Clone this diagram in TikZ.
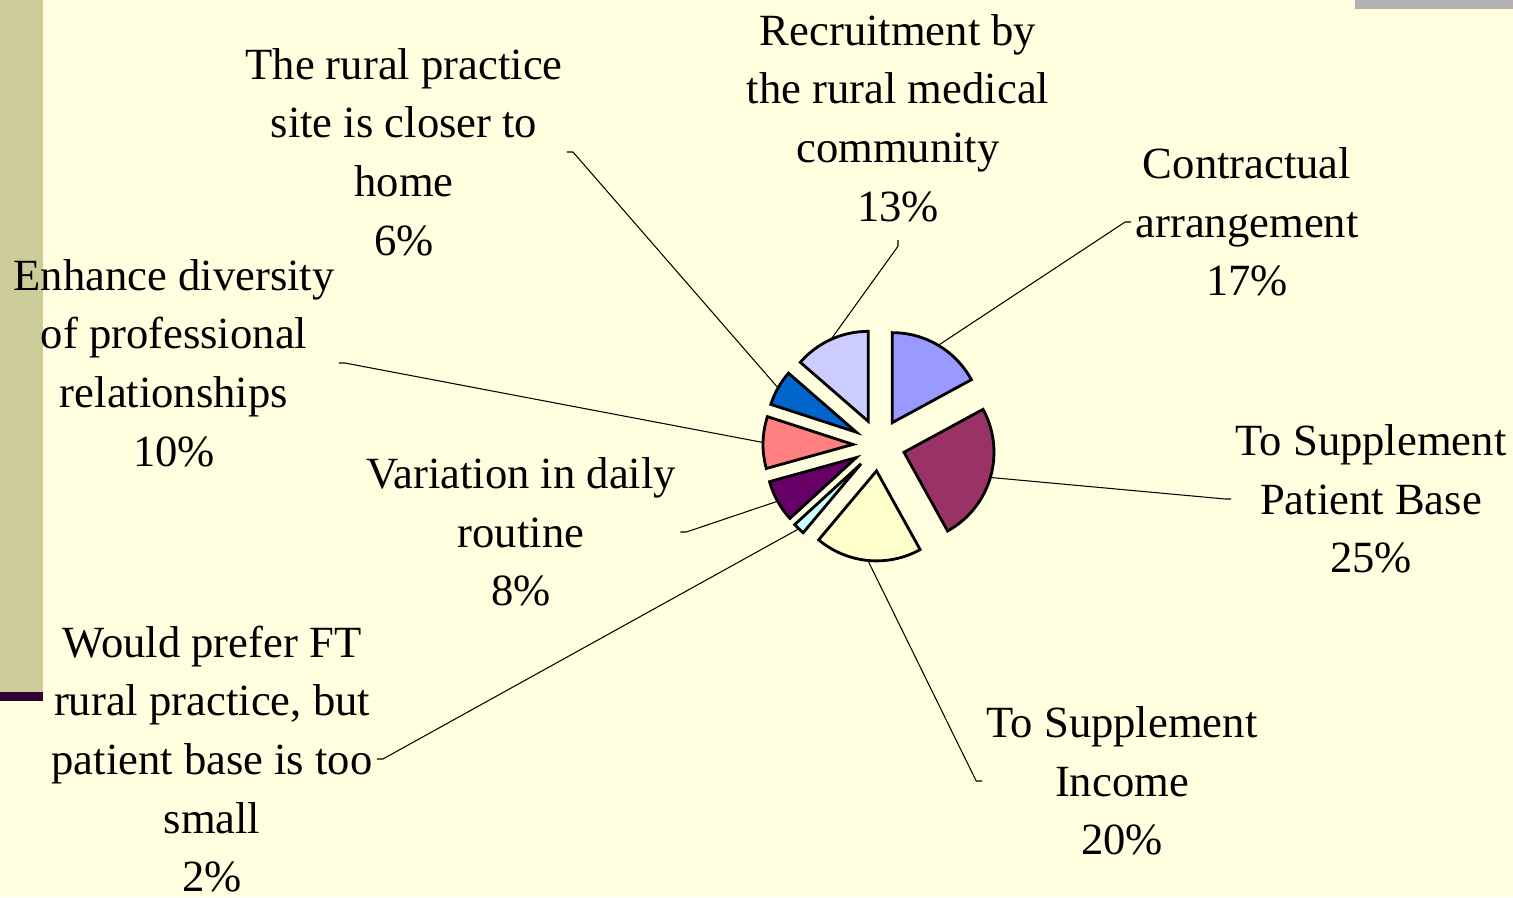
\documentclass[tikz,border=0pt]{standalone}
\usepackage{fontspec}
\setmainfont{Liberation Serif}
\usepackage{tikz}
\usetikzlibrary{calc}

\definecolor{bgyellow}{HTML}{FFFFE0}
\definecolor{barolive}{HTML}{CCCC99}
\definecolor{bardark}{HTML}{330033}
\definecolor{bargray}{HTML}{B2B2B2}
\definecolor{pieblue}{HTML}{9999FF}
\definecolor{pieplum}{HTML}{993366}
\definecolor{piecream}{HTML}{FFFFCC}
\definecolor{pieaqua}{HTML}{CCFFFF}
\definecolor{piepurple}{HTML}{660066}
\definecolor{piecoral}{HTML}{FF8080}
\definecolor{pieocean}{HTML}{0066CC}
\definecolor{pielilac}{HTML}{CCCCFF}

\begin{document}
\begin{tikzpicture}[x=0.02cm, y=0.02cm,
  slice/.style={draw=black, line width=1.6pt},
  lbl/.style={align=center, inner sep=2.3pt, font=\fontsize{25.4pt}{33.4pt}\selectfont},
  leader/.style={draw=black, line width=0.6pt}]
% Slide background
\fill[bgyellow] (0,0) rectangle (1513,897);
\useasboundingbox (0,0) rectangle (1513,897);
\fill[barolive] (0,205) rectangle (43,897);
\fill[bardark] (0,196) rectangle (43,205);
\fill[bargray] (1355,888) rectangle (1513,897);

% Exploded pie, clockwise from twelve o'clock
\coordinate (C) at (879,452);
\foreach \name/\a/\b/\col in {contract/28.5/90/pieblue, ptbase/-61/28.5/pieplum,
    income/-130/-61/piecream, prefft/-137.5/-130/pieaqua,
    variation/-164.5/-137.5/piepurple, diversity/162/195.5/piecoral,
    closer/139/162/pieocean, recruit/90/139/pielilac}{
  \pgfmathsetmacro\mid{(\a+\b)/2}
  \draw[slice, fill=\col] (C) ++(\mid:26) -- ++(\a:90)
    arc[start angle=\a, end angle=\b, radius=90] -- cycle;
  \path (C) ++(\mid:116) coordinate (\name-rim);
}

% Data labels
\node[lbl] (recruit-lbl) at (898,779) {Recruitment by\\the rural medical\\community\\13\%};
\node[lbl] (contract-lbl) at (1247,675) {Contractual\\arrangement\\17\%};
\node[lbl] (ptbase-lbl) at (1371,398) {To Supplement\\Patient Base\\25\%};
\node[lbl] (income-lbl) at (1122,116) {To Supplement\\Income\\20\%};
\node[lbl] (prefft-lbl) at (212,138) {Would prefer FT\\rural practice, but\\patient base is too\\small\\2\%};
\node[lbl] (variation-lbl) at (521,365) {Variation in daily\\routine\\8\%};
\node[lbl] (diversity-lbl) at (174,534) {Enhance diversity\\of professional\\relationships\\10\%};
\node[lbl] (closer-lbl) at (404,745) {The rural practice\\site is closer to\\home\\6\%};

% Leader lines
\draw[leader] (recruit-lbl.south) ++(0,-14) -- ++(0,-6) -- (recruit-rim);
\draw[leader] (contract-lbl.west) -- ++(-6,0) -- (contract-rim);
\draw[leader] (ptbase-lbl.west) -- ++(-6,0) -- (ptbase-rim);
\draw[leader] (income-lbl.west) -- ++(-6,0) -- (income-rim);
\draw[leader] (prefft-lbl.east) -- ++(6,0) -- (prefft-rim);
\draw[leader] (variation-lbl.east) -- ++(6,0) -- (variation-rim);
\draw[leader] (diversity-lbl.east) -- ++(6,0) -- (diversity-rim);
\draw[leader] (closer-lbl.east) -- ++(6,0) -- (closer-rim);
\end{tikzpicture}
\end{document}
